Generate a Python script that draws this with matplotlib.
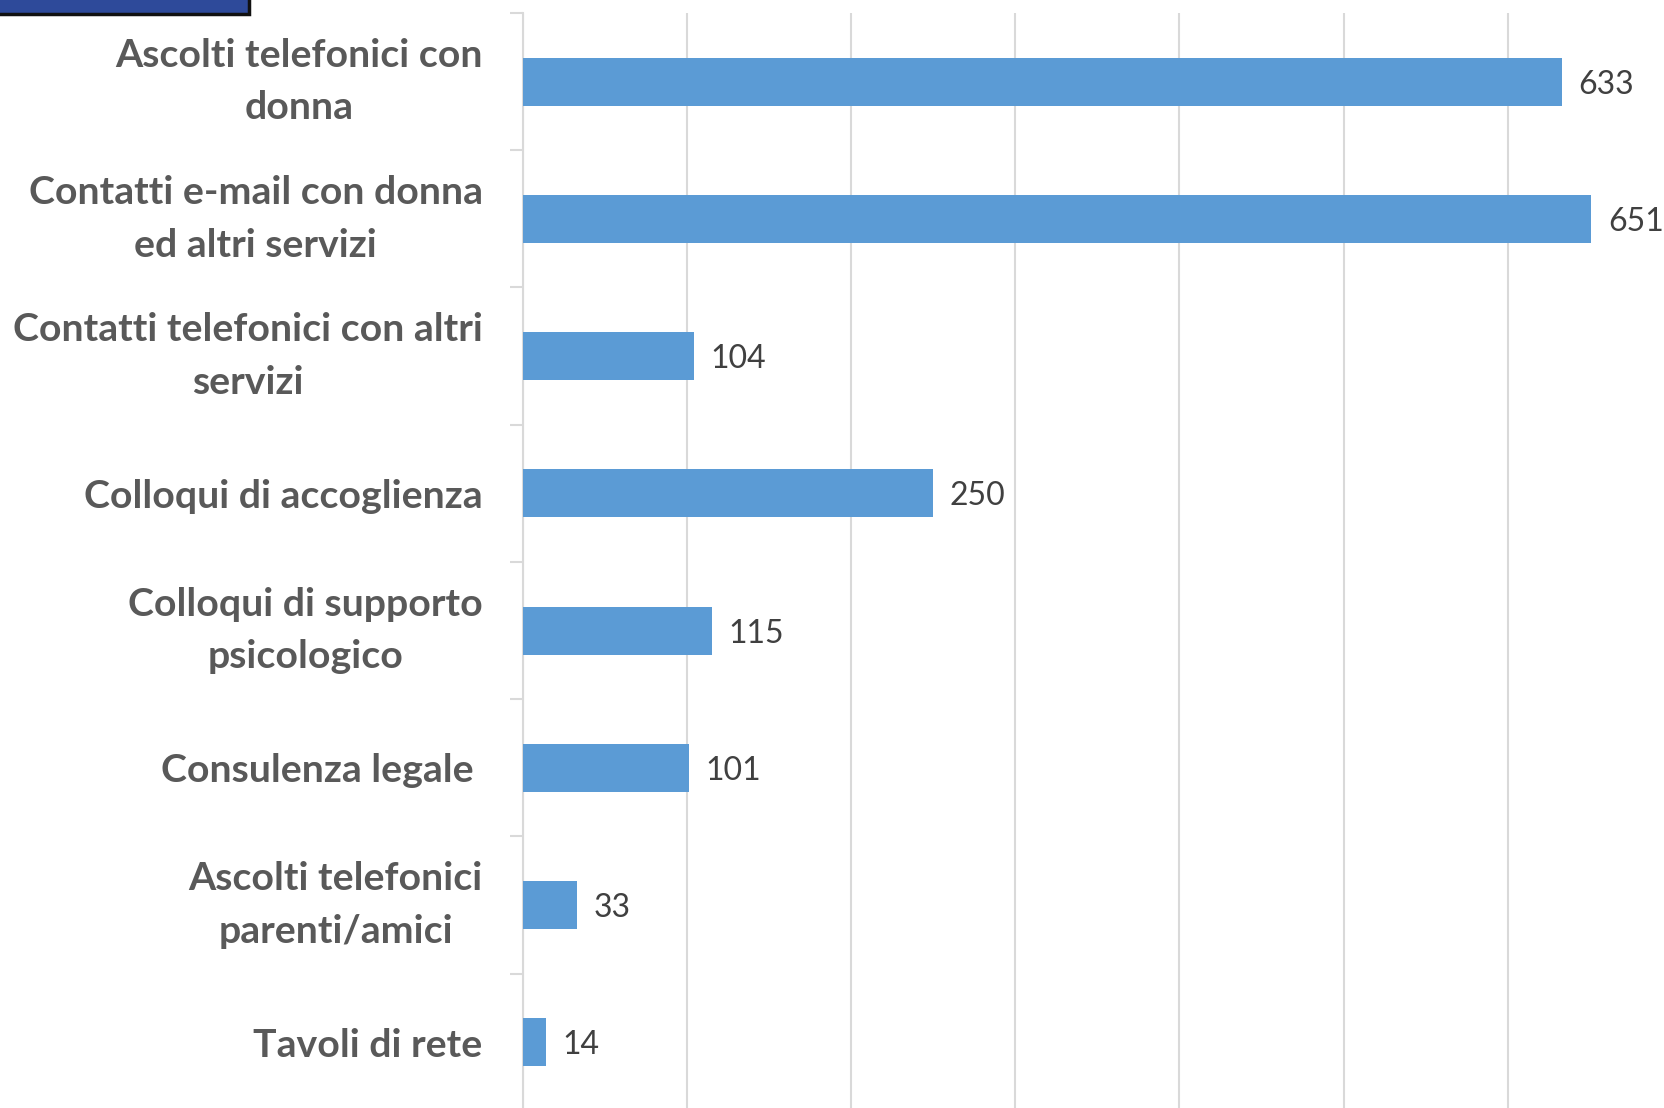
import matplotlib
matplotlib.use('Agg')
import matplotlib.pyplot as plt
from matplotlib.patches import Rectangle
import numpy as np

categories = [
    'Ascolti telefonici con\ndonna',
    'Contatti e-mail con donna\ned altri servizi',
    'Contatti telefonici con altri\nservizi',
    'Colloqui di accoglienza',
    'Colloqui di supporto\npsicologico',
    'Consulenza legale ',
    'Ascolti telefonici\nparenti/amici',
    'Tavoli di rete',
]
values = [633, 651, 104, 250, 115, 101, 33, 14]
grid_ticks = [0, 100, 200, 300, 400, 500, 600]

bar_color = '#5B9BD5'
grid_color = '#D9D9D9'
label_color = '#595959'
value_color = '#404040'

fig = plt.figure(figsize=(16.64, 11.08), dpi=100)
ax = fig.add_axes([0.3143, -0.0027, 0.6857, 0.991])

y = np.arange(len(categories))
ax.barh(y, values, height=0.35, color=bar_color, zorder=3)

ax.set_ylim(len(categories) - 0.5, -0.5)
ax.set_xlim(0, 695.3)

# value labels
for yi, v in zip(y, values):
    ax.annotate(str(v), xy=(v, yi), xytext=(12, -2.2), textcoords='offset points',
                va='center', ha='left', fontsize=23, color=value_color,
                family='Lato', zorder=4, annotation_clip=False)

# gridlines
ax.set_xticks(grid_ticks)
ax.set_xticklabels([])
ax.tick_params(axis='x', length=0)
ax.grid(axis='x', color=grid_color, linewidth=1.5, zorder=0)

# category labels and boundary ticks
ax.set_yticks(y)
ax.set_yticklabels(categories, fontsize=28.3, fontweight='bold', color=label_color,
                   family='Lato', multialignment='center', linespacing=1.6)
for lbl in ax.get_yticklabels():
    if '\n' in lbl.get_text():
        lbl.set_verticalalignment('center')
ax.tick_params(axis='y', which='major', length=0, pad=29)
ax.set_yticks(np.arange(-0.5, len(categories), 1.0), minor=True)
ax.tick_params(axis='y', which='minor', length=9.5, width=1.5, color=grid_color)

for side in ['top', 'right', 'bottom']:
    ax.spines[side].set_visible(False)
ax.spines['left'].set_color(grid_color)
ax.spines['left'].set_linewidth(1.5)

# cut-off title box in the corner
fig.patches.append(Rectangle((-0.01, 0.9875), 0.1596, 0.03,
                             transform=fig.transFigure, facecolor='#2E4A9A',
                             edgecolor='#111111', linewidth=2.5))

fig.savefig('out.png', dpi=100)
